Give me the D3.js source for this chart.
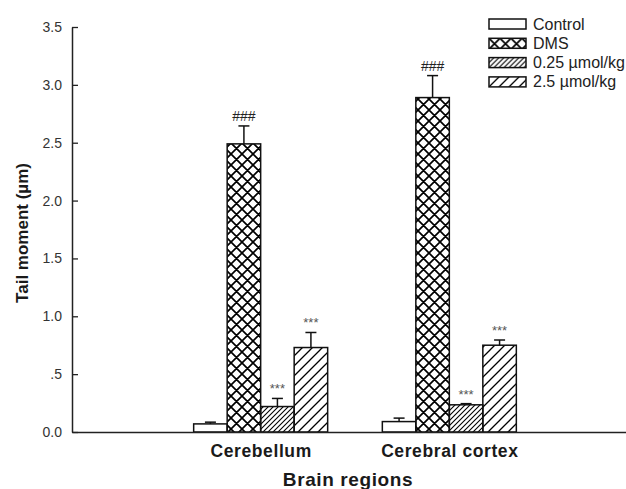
<!DOCTYPE html>
<html>
<head>
<meta charset="utf-8">
<script src="https://cdn.jsdelivr.net/npm/d3@7"></script>
<style>
  body { margin: 0; background: #fff; }
  svg { display: block; font-family: "Liberation Sans", Arial, sans-serif; }
</style>
</head>
<body>
<div id="chart"></div>
<script>
// Data
var categories = ["Cerebellum", "Cerebral cortex"];
var groups = ["Control", "DMS", "0.25 \u00b5mol/kg", "2.5 \u00b5mol/kg"];

var controlValues = [0.07, 0.09];
var controlErrors = [0.015, 0.03];
var dmsValues = [2.49, 2.89];
var dmsErrors = [0.155, 0.19];
var lowDoseValues = [0.22, 0.235];
var lowDoseErrors = [0.07, 0.01];
var highDoseValues = [0.73, 0.75];
var highDoseErrors = [0.13, 0.045];
var marks = ["", "###", "***", "***"];

var tickValues = [0, 0.5, 1, 1.5, 2, 2.5, 3, 3.5];
var tickLabels = ["0.0", ".5", "1.0", "1.5", "2.0", "2.5", "3.0", "3.5"];

var svgWidth = 626;
var svgHeight = 489;

var svg = d3.select("#chart")
  .append("svg")
  .attr("width", svgWidth)
  .attr("height", svgHeight);

// patterns for the bar fills
var defs = svg.append("defs");

var cross = defs.append("pattern")
  .attr("id", "cross")
  .attr("patternUnits", "userSpaceOnUse")
  .attr("width", 11).attr("height", 11);
cross.append("path")
  .attr("d", "M0,11L11,0M-2,2L2,-2M9,13L13,9M0,0L11,11M-2,9L2,13M9,-2L13,2")
  .attr("stroke", "#000").attr("stroke-width", 1.7);

var dense = defs.append("pattern")
  .attr("id", "dense")
  .attr("patternUnits", "userSpaceOnUse")
  .attr("width", 5).attr("height", 5);
dense.append("path")
  .attr("d", "M0,5L5,0M-1,1L1,-1M4,6L6,4")
  .attr("stroke", "#000").attr("stroke-width", 1.1);

var sparse = defs.append("pattern")
  .attr("id", "sparse")
  .attr("patternUnits", "userSpaceOnUse")
  .attr("width", 10).attr("height", 10);
sparse.append("path")
  .attr("d", "M0,10L10,0M-1,1L1,-1M9,11L11,9")
  .attr("stroke", "#000").attr("stroke-width", 1.3);

var fills = ["#fff", "url(#cross)", "url(#dense)", "url(#sparse)"];

// scales
var x = d3.scaleLinear().domain([0, 3]).range([72, 638]);
var y = d3.scaleLinear().domain([0, 3.5]).range([432, 27]);
var barWidth = 33.5;

var series = [
  { values: controlValues, errors: controlErrors },
  { values: dmsValues, errors: dmsErrors },
  { values: lowDoseValues, errors: lowDoseErrors },
  { values: highDoseValues, errors: highDoseErrors }
];

var rows = [];
series.forEach(function(s, gi) {
  categories.forEach(function(c, ci) {
    rows.push({ group: gi, cat: ci, value: s.values[ci], err: s.errors[ci] });
  });
});

function barLeft(d) {
  return x(d.cat + 1) + (d.group - 2) * barWidth;
}

var chart = svg.append("g");

chart.selectAll(".bar")
  .data(rows)
  .enter()
  .append("rect")
  .attr("class", "bar")
  .attr("x", barLeft)
  .attr("y", function(d) { return y(d.value); })
  .attr("width", barWidth)
  .attr("height", function(d) { return y(0) - y(d.value); })
  .attr("fill", function(d) { return fills[d.group]; })
  .attr("stroke", "#111")
  .attr("stroke-width", 1.5);

// error bars, upper side only
var err = chart.selectAll(".err")
  .data(rows)
  .enter()
  .append("g")
  .attr("class", "err")
  .attr("stroke", "#111")
  .attr("stroke-width", 1.5);

err.append("line")
  .attr("x1", function(d) { return barLeft(d) + barWidth / 2; })
  .attr("x2", function(d) { return barLeft(d) + barWidth / 2; })
  .attr("y1", function(d) { return y(d.value); })
  .attr("y2", function(d) { return y(d.value + d.err); });

err.append("line")
  .attr("x1", function(d) { return barLeft(d) + barWidth / 2 - 5.5; })
  .attr("x2", function(d) { return barLeft(d) + barWidth / 2 + 5.5; })
  .attr("y1", function(d) { return y(d.value + d.err); })
  .attr("y2", function(d) { return y(d.value + d.err); });

// significance marks
chart.selectAll(".mark")
  .data(rows.filter(function(d) { return marks[d.group] !== ""; }))
  .enter()
  .append("text")
  .attr("class", "mark")
  .attr("x", function(d) { return barLeft(d) + barWidth / 2; })
  .attr("y", function(d) { return y(d.value + d.err) - 5; })
  .attr("text-anchor", "middle")
  .attr("font-size", function(d) { return d.group === 1 ? 14 : 13; })
  .attr("fill", function(d) { return d.group === 1 ? "#222" : "#555"; })
  .text(function(d) { return marks[d.group]; });

// axes
var leftAxis = d3.axisLeft(y)
  .tickValues(tickValues)
  .tickFormat(function(d, i) { return tickLabels[i]; })
  .tickSizeInner(-6)
  .tickSizeOuter(0)
  .tickPadding(10);

var yAxisG = svg.append("g")
  .attr("transform", "translate(" + x(0) + ",0)")
  .call(leftAxis);
yAxisG.select(".domain").attr("stroke", "#222").attr("stroke-width", 1.5);
yAxisG.selectAll(".tick line").attr("stroke", "#222").attr("stroke-width", 1.3);
yAxisG.selectAll(".tick text")
  .attr("font-size", 14)
  .attr("fill", "#333")
  .attr("font-family", "Liberation Sans, Arial, sans-serif");

var bottomAxis = d3.axisBottom(x)
  .tickValues([1, 2])
  .tickFormat(function(d) { return categories[d - 1]; })
  .tickSize(0)
  .tickPadding(13);

var xAxisG = svg.append("g")
  .attr("transform", "translate(0," + y(0) + ")")
  .call(bottomAxis);
xAxisG.select(".domain").attr("stroke", "#222").attr("stroke-width", 1.5);
xAxisG.selectAll(".tick text")
  .attr("font-size", 17.5)
  .attr("font-weight", "bold")
  .attr("letter-spacing", 0.6)
  .attr("fill", "#1a1a1a")
  .attr("font-family", "Liberation Sans, Arial, sans-serif");

// axis titles
svg.append("text")
  .attr("transform", "translate(28,233) rotate(-90)")
  .attr("text-anchor", "middle")
  .attr("font-size", 17)
  .attr("font-weight", "bold")
  .attr("fill", "#1a1a1a")
  .text("Tail moment (\u00b5m)");

svg.append("text")
  .attr("x", 348)
  .attr("y", 486)
  .attr("text-anchor", "middle")
  .attr("font-size", 19)
  .attr("font-weight", "bold")
  .attr("letter-spacing", 0.6)
  .attr("fill", "#1a1a1a")
  .text("Brain regions");

// legend
var legend = svg.append("g").attr("transform", "translate(489,19)");
var item = legend.selectAll(".item")
  .data(groups)
  .enter()
  .append("g")
  .attr("class", "item")
  .attr("transform", function(d, i) { return "translate(0," + i * 19.3 + ")"; });

item.append("rect")
  .attr("width", 37)
  .attr("height", 10)
  .attr("fill", function(d, i) { return fills[i]; })
  .attr("stroke", "#111")
  .attr("stroke-width", 1.5);

item.append("text")
  .attr("x", 44)
  .attr("y", 10.5)
  .attr("font-size", 16)
  .attr("fill", "#222")
  .text(function(d) { return d; });
</script>
</body>
</html>
